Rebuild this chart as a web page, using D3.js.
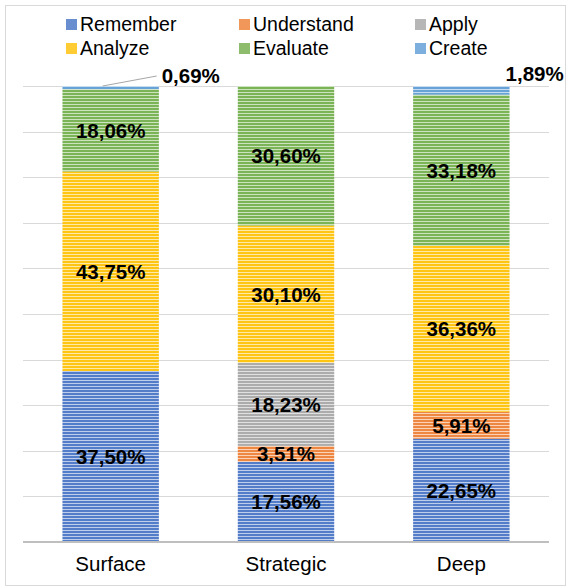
<!DOCTYPE html>
<html>
<head>
<meta charset="utf-8">
<script src="https://cdn.jsdelivr.net/npm/d3@7"></script>
<style>
  body { margin: 0; background: #fff; }
  svg text { font-family: "Liberation Sans", Arial, sans-serif; }
</style>
</head>
<body>
<svg id="chart" width="567" height="588"></svg>
<script>
// categories and series (percent of each bar)
var categories = ["Surface", "Strategic", "Deep"];
var levels = ["Remember", "Understand", "Apply", "Analyze", "Evaluate", "Create"];
var colors = ["#4472C4", "#ED7D31", "#A5A5A5", "#FFC000", "#70AD47", "#5B9BD5"];

var remember   = [37.50, 17.56, 22.65];
var understand = [0,      3.51,  5.91];
var apply      = [0,     18.23,  0];
var analyze    = [43.75, 30.10, 36.36];
var evaluate   = [18.06, 30.60, 33.18];
var create     = [0.69,   0,     1.89];

var yTicks = [0, 10, 20, 30, 40, 50, 60, 70, 80, 90, 100];

var series = [remember, understand, apply, analyze, evaluate, create];

var svg = d3.select("#chart");
var margin = { left: 23, right: 18, top: 86, bottom: 46 };
var W = 567, H = 588;

// outer frame
svg.append("rect")
  .attr("x", 5.5).attr("y", 5.5)
  .attr("width", 560).attr("height", 580)
  .attr("fill", "none")
  .attr("stroke", "#D9D9D9");

// striped fills
var defs = svg.append("defs");
colors.forEach(function(c, i) {
    var light = d3.interpolateRgb(c, "#ffffff")(0.65);
    var p = defs.append("pattern")
      .attr("id", "pat" + i)
      .attr("patternUnits", "userSpaceOnUse")
      .attr("width", 4).attr("height", 3);
    p.append("rect").attr("width", 4).attr("height", 3).attr("fill", light);
    p.append("rect").attr("width", 4).attr("height", 2).attr("fill", d3.interpolateRgb(c, "#ffffff")(0.08));
});

var x = d3.scaleBand()
  .domain(categories)
  .range([margin.left, W - margin.right])
  .paddingInner(0.45)
  .paddingOuter(0.225);

var y = d3.scaleLinear()
  .domain([0, 100])
  .range([H - margin.bottom, margin.top]);

// gridlines
svg.append("g")
  .selectAll("line")
  .data(yTicks.slice(1))
  .enter().append("line")
  .attr("x1", margin.left).attr("x2", W - margin.right)
  .attr("y1", function(d) { return Math.round(y(d)) + 0.5; })
  .attr("y2", function(d) { return Math.round(y(d)) + 0.5; })
  .attr("stroke", "#D9D9D9")
  .attr("stroke-width", 1.2);

// stack data
var rows = categories.map(function(c, i) {
    var r = { cat: c };
    levels.forEach(function(l, j) { r[l] = series[j][i]; });
    return r;
});
var stacked = d3.stack().keys(levels)(rows);

var layers = svg.append("g")
  .selectAll("g")
  .data(stacked)
  .enter().append("g")
  .attr("fill", function(d, i) { return "url(#pat" + i + ")"; });

layers.selectAll("rect")
  .data(function(d) { return d; })
  .enter().append("rect")
  .attr("x", function(d) { return x(d.data.cat); })
  .attr("width", x.bandwidth())
  .attr("y", function(d) { return y(d[1]); })
  .attr("height", function(d) { return y(d[0]) - y(d[1]); });

// baseline axis
svg.append("g")
  .attr("transform", "translate(0," + y(0) + ")")
  .call(d3.axisBottom(x).tickSize(0).tickPadding(14))
  .call(function(g) {
      g.select(".domain").attr("stroke", "#BFBFBF").attr("stroke-width", 2)
        .attr("d", "M" + margin.left + ",0H" + (W - margin.right));
      g.selectAll("text")
        .attr("font-size", "20.5px")
        .attr("font-family", "Liberation Sans, Arial, sans-serif")
        .attr("fill", "#000");
  });

function fmt(v) { return v.toFixed(2).replace(".", ",") + "%"; }

// labels
var labelG = svg.append("g");
stacked.forEach(function(layer, j) {
    layer.forEach(function(d) {
        var v = d[1] - d[0];
        if (v <= 0) return;
        var cx = x(d.data.cat) + x.bandwidth() / 2;
        var cy = (y(d[0]) + y(d[1])) / 2;
        var anchor = "middle";
        if (v < 3) {
            // small top segment: label outside
            if (d.data.cat === "Surface") {
                labelG.append("line")
                  .attr("x1", cx - 8).attr("y1", y(d[1]))
                  .attr("x2", cx + 46).attr("y2", y(d[1]) - 10)
                  .attr("stroke", "#A6A6A6");
                cx = cx + 51;
                cy = y(d[1]) - 10;
            } else {
                cx = x(d.data.cat) + x.bandwidth() - 4;
                cy = y(d[1]) - 12;
            }
            anchor = "start";
        }
        labelG.append("text")
          .attr("x", cx).attr("y", cy)
          .attr("dy", "0.36em")
          .attr("text-anchor", anchor)
          .attr("font-size", "20.5px")
          .attr("font-weight", "bold")
          .attr("fill", "#000")
          .text(fmt(v));
    });
});

// legend
var legendPos = [
  [66, 24], [239, 24], [415, 24],
  [66, 48], [239, 48], [415, 48]
];
var legend = svg.append("g")
  .selectAll("g")
  .data(levels)
  .enter().append("g")
  .attr("transform", function(d, i) { return "translate(" + legendPos[i][0] + "," + legendPos[i][1] + ")"; });

legend.append("rect")
  .attr("x", 0).attr("y", -5)
  .attr("width", 11).attr("height", 11)
  .attr("fill", function(d, i) { return d3.interpolateRgb(colors[i], "#ffffff")(0.2); });

legend.append("text")
  .attr("x", 14).attr("y", 0)
  .attr("dy", "0.36em")
  .attr("font-size", "19.5px")
  .attr("fill", "#000")
  .text(function(d) { return d; });
</script>
</body>
</html>
